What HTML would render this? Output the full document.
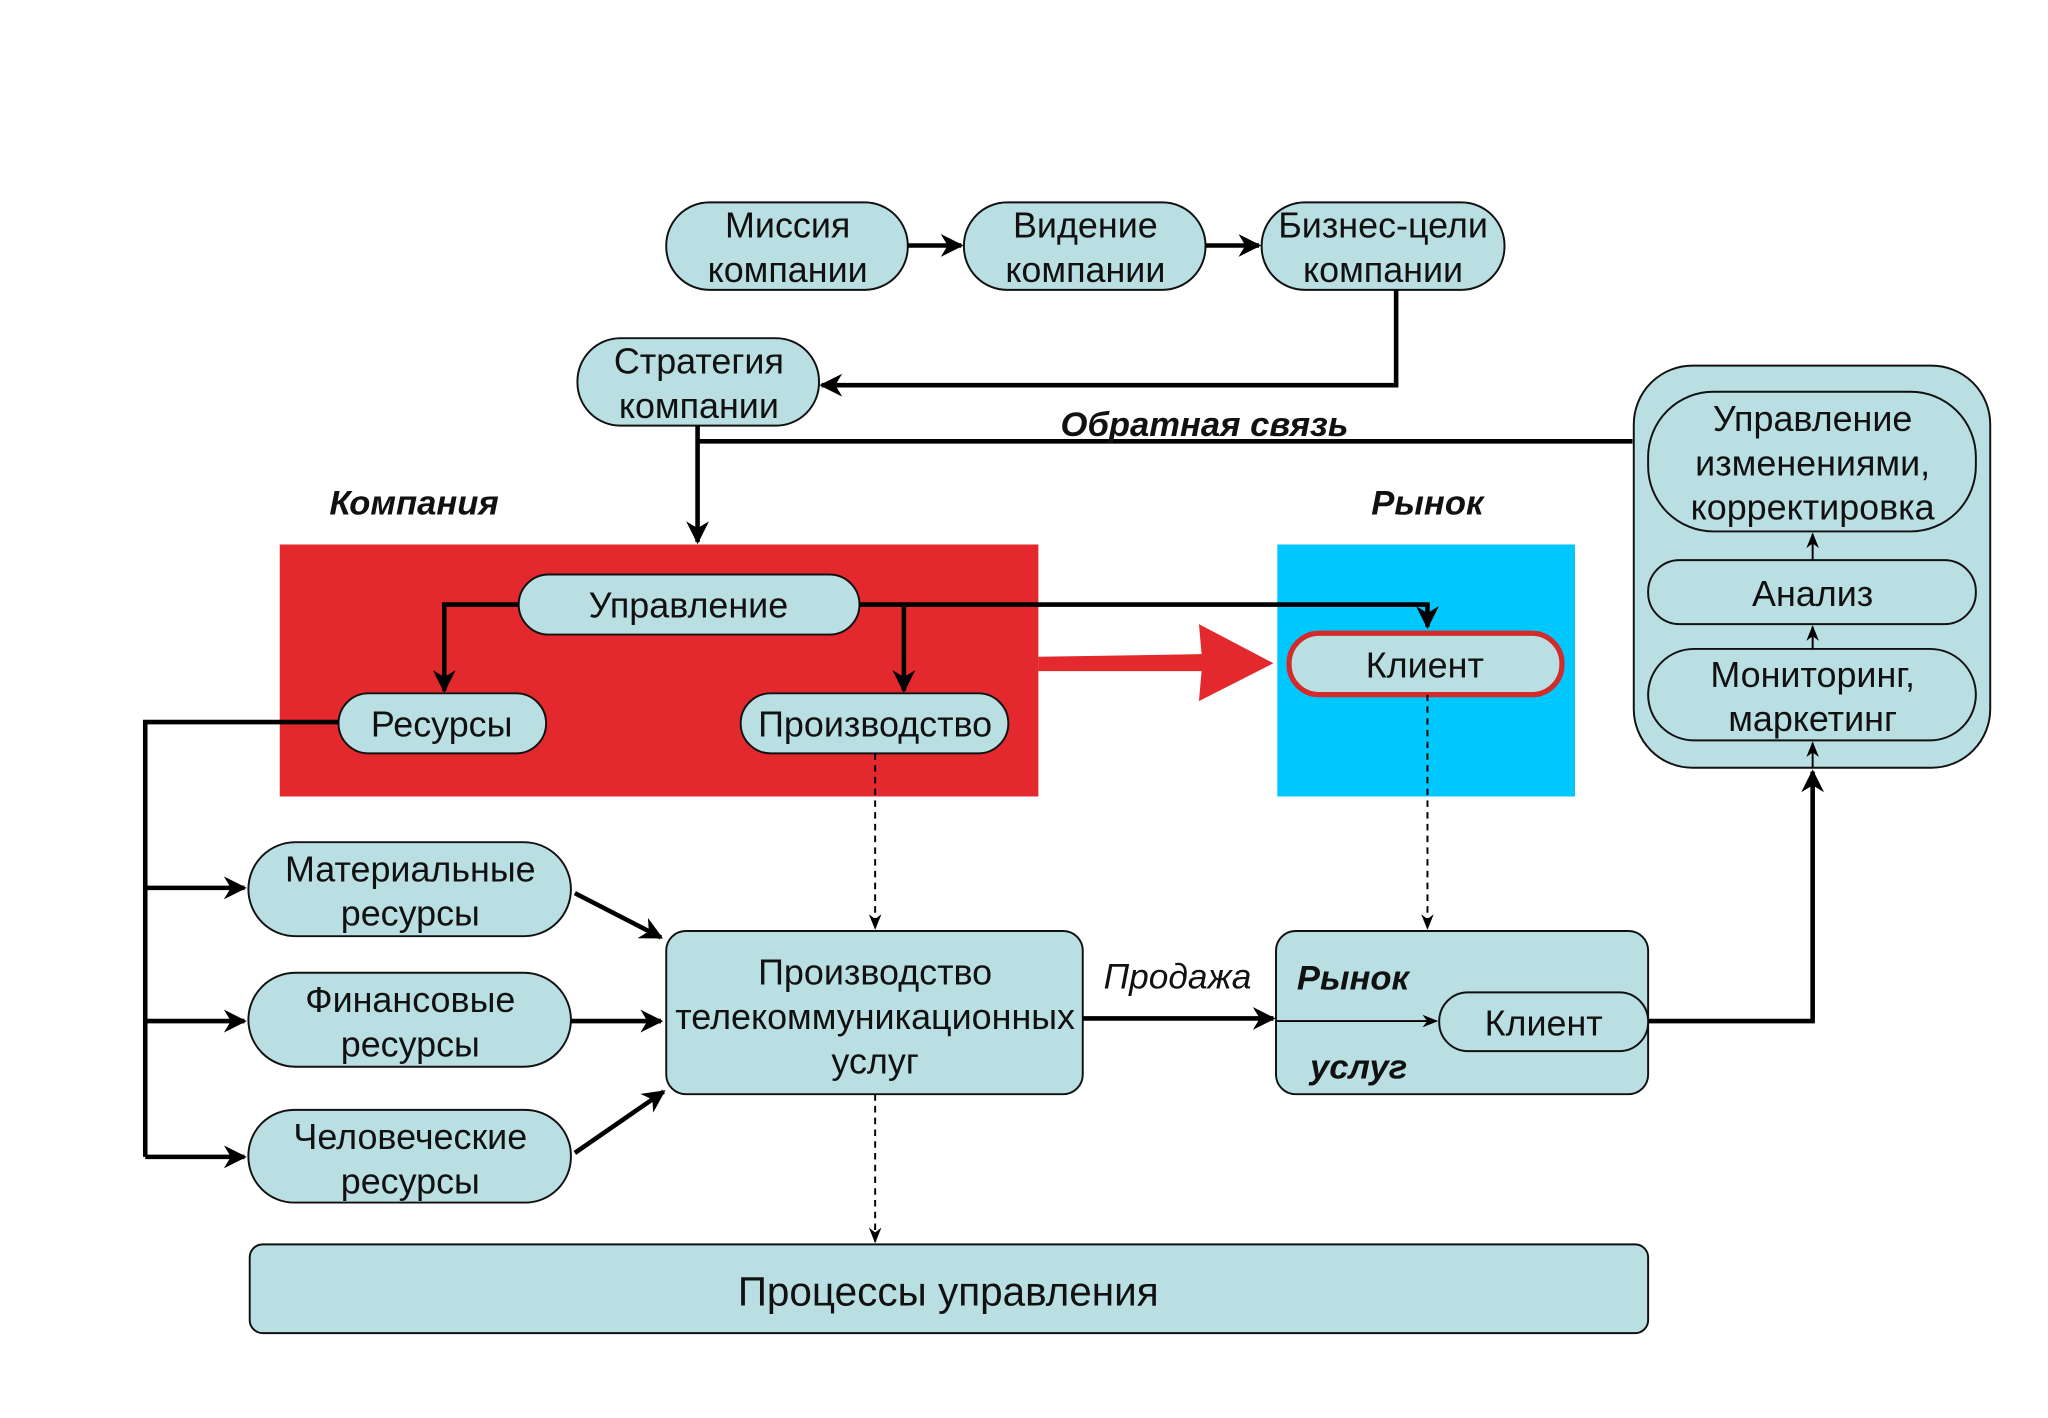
<!DOCTYPE html>
<html><head><meta charset="utf-8"><style>html,body{margin:0;padding:0;background:#fff}svg{display:block}</style></head>
<body>
<svg width="2048" height="1418" viewBox="0 0 1568 1086" xmlns="http://www.w3.org/2000/svg" font-family="Liberation Sans, DejaVu Sans, sans-serif">
<defs>
<marker id="a" viewBox="0 0 10 10" refX="9" refY="5" markerWidth="5" markerHeight="5" orient="auto" markerUnits="strokeWidth"><path d="M0,0 L10,5 L0,10 L3,5 z" fill="#000"/></marker>
<marker id="s" viewBox="0 0 10 10" refX="9" refY="5" markerWidth="8" markerHeight="8" orient="auto" markerUnits="strokeWidth"><path d="M0,1 L10,5 L0,9 L3,5 z" fill="#000"/></marker>
</defs>
<rect width="1568" height="1086" fill="#fff"/>
<g fill="#b9dfe3" stroke="#111" stroke-width="1.5">
<rect x="510" y="155" width="185" height="67" rx="33"/>
<rect x="738" y="155" width="185" height="67" rx="33"/>
<rect x="966" y="155" width="186" height="67" rx="33"/>
<rect x="442" y="259" width="185" height="67" rx="33"/>
</g>
<rect x="214" y="417" width="581" height="193" fill="#e3292e"/>
<rect x="978" y="417" width="228" height="193" fill="#00c8ff"/>
<g fill="#b9dfe3" stroke="#111" stroke-width="1.5">
<rect x="397" y="440" width="261" height="46" rx="23"/>
<rect x="259" y="531" width="159" height="46" rx="23"/>
<rect x="567" y="531" width="205" height="46" rx="23"/>
<rect x="190" y="645" width="247" height="72" rx="36"/>
<rect x="190" y="745" width="247" height="72" rx="36"/>
<rect x="190" y="850" width="247" height="71" rx="35"/>
<rect x="510" y="713" width="319" height="125" rx="15"/>
<rect x="977" y="713" width="285" height="125" rx="15"/>
<rect x="1102" y="760" width="160" height="45" rx="22"/>
<rect x="191" y="953" width="1071" height="68" rx="10"/>
<rect x="1251" y="280" width="273" height="308" rx="45"/>
<rect x="1262" y="300" width="251" height="107" rx="50"/>
<rect x="1262" y="429" width="251" height="49" rx="24"/>
<rect x="1262" y="497" width="251" height="70" rx="35"/>
</g>
<rect x="987" y="485" width="209" height="47" rx="23" fill="#b9dfe3" stroke="#d42a2a" stroke-width="4"/>
<g fill="none" stroke="#000" stroke-width="3.5">
<path d="M695,188 H736" marker-end="url(#a)"/>
<path d="M923,188 H964" marker-end="url(#a)"/>
<path d="M1069,222 V295 H629" marker-end="url(#a)"/>
<path d="M1250,338 H534"/>
<path d="M534,326 V415" marker-end="url(#a)"/>
<path d="M397,463 H340 V529" marker-end="url(#a)"/>
<path d="M658,463 H1093 V480" marker-end="url(#a)"/>
<path d="M692,463 V529" marker-end="url(#a)"/>
<path d="M259,553 H111 V886"/>
<path d="M111,680 H187" marker-end="url(#a)"/>
<path d="M111,782 H187" marker-end="url(#a)"/>
<path d="M111,886 H187" marker-end="url(#a)"/>
<path d="M440,684 L506,718" marker-end="url(#a)"/>
<path d="M437,782 H506" marker-end="url(#a)"/>
<path d="M440,883 L508,836" marker-end="url(#a)"/>
<path d="M829,780 H975" marker-end="url(#a)"/>
<path d="M1262,782 H1388 V591" marker-end="url(#a)"/>
</g>
<g fill="none" stroke="#000" stroke-width="1.5">
<path d="M977,782 H1100" marker-end="url(#s)"/>
<path d="M1388,429 V409" marker-end="url(#s)"/>
<path d="M1388,497 V480" marker-end="url(#s)"/>
<path d="M1388,588 V569" marker-end="url(#s)"/>
<path d="M670,577 V711" stroke-dasharray="5,4" marker-end="url(#s)"/>
<path d="M1093,532 V711" stroke-dasharray="5,4" marker-end="url(#s)"/>
<path d="M670,838 V951" stroke-dasharray="5,4" marker-end="url(#s)"/>
</g>
<path d="M795,503 L920,501 L918,478 L975,508 L918,537 L920,514 L795,514 z" fill="#e3292e"/>
<g font-size="27.5" fill="#111" text-anchor="middle">
<text x="603" y="182">Миссия</text><text x="603" y="216">компании</text>
<text x="831" y="182">Видение</text><text x="831" y="216">компании</text>
<text x="1059" y="182">Бизнес-цели</text><text x="1059" y="216">компании</text>
<text x="535" y="286">Стратегия</text><text x="535" y="320">компании</text>
<text x="527" y="473">Управление</text>
<text x="338" y="564">Ресурсы</text>
<text x="670" y="564">Производство</text>
<text x="1091" y="519">Клиент</text>
<text x="314" y="675">Материальные</text><text x="314" y="709">ресурсы</text>
<text x="314" y="775">Финансовые</text><text x="314" y="809">ресурсы</text>
<text x="314" y="880">Человеческие</text><text x="314" y="914">ресурсы</text>
<text x="670" y="754">Производство</text><text x="670" y="788">телекоммуникационных</text><text x="670" y="822">услуг</text>
<text x="1182" y="793">Клиент</text>
<text x="1388" y="330">Управление</text><text x="1388" y="364">изменениями,</text><text x="1388" y="398">корректировка</text>
<text x="1388" y="464">Анализ</text>
<text x="1388" y="526">Мониторинг,</text><text x="1388" y="560">маркетинг</text>
<text x="726" y="1000" font-size="31">Процессы управления</text>
</g>
<g font-size="26.5" font-weight="bold" font-style="italic" fill="#111">
<text x="812" y="334">Обратная связь</text>
<text x="252" y="394">Компания</text>
<text x="1050" y="394">Рынок</text>
<text x="993" y="758">Рынок</text>
<text x="1003" y="826">услуг</text>
</g>
<text x="845" y="757" font-size="27" font-style="italic" fill="#111">Продажа</text>
</svg>
</body></html>
